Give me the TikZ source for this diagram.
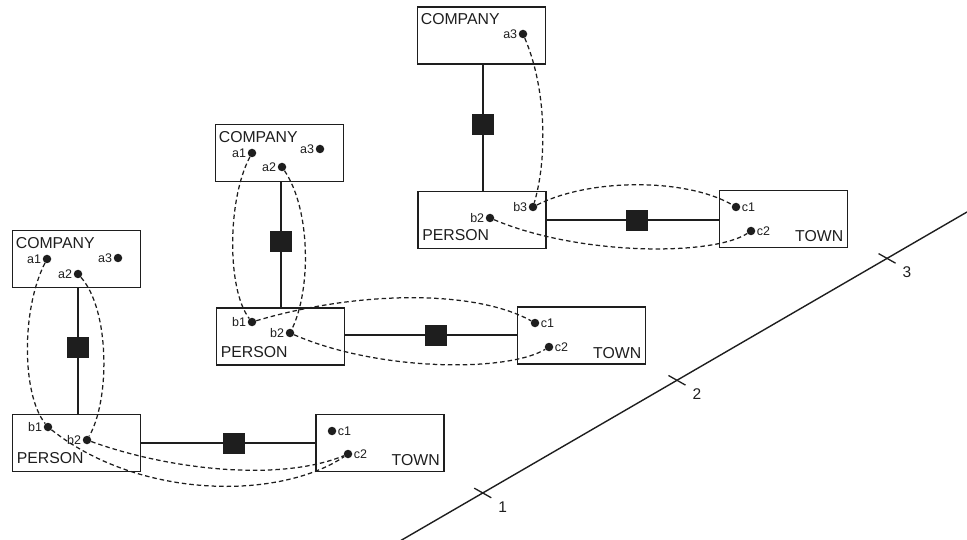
\documentclass[tikz,border=0pt]{standalone}
\usepackage{fontspec}
\setmainfont{Liberation Sans}
\usetikzlibrary{calc}
\definecolor{ink}{RGB}{30,30,30}
\newcommand{\attrL}[3]{\node[dot] (#1) at (#2) {}; \node[lbl, anchor=east] (#1l) at (#1.west) {#3};}
\newcommand{\attrR}[3]{\node[dot] (#1) at (#2) {}; \node[lbl, anchor=west] (#1l) at (#1.east) {#3};}
\begin{document}
\begin{tikzpicture}[x=1pt,y=-1pt,
  box/.style={draw=ink, line width=1.7pt, minimum width=128pt, minimum height=57pt, inner sep=0pt},
  title/.style={font=\fontsize{15.8}{15.8}\selectfont, text=ink, inner sep=0pt},
  lbl/.style={font=\fontsize{12.5}{12.5}\selectfont, text=ink, inner sep=1.2pt},
  dot/.style={circle, fill=ink, minimum size=8.5pt, inner sep=0pt},
  rel/.style={fill=ink, draw=ink, minimum width=21pt, minimum height=20pt, inner sep=0pt},
  link/.style={draw=ink, line width=1.1pt},
  dep/.style={draw=ink, line width=1.25pt, dash pattern=on 4.5pt off 3pt},
  timeaxis/.style={draw=ink, line width=1.4pt},
  axtick/.style={draw=ink, line width=1.3pt},
  ticklbl/.style={font=\fontsize{15.5}{15.5}\selectfont, text=ink, inner sep=0pt}
]
\useasboundingbox (0,0) rectangle (967,540);

% ---------- boxes ----------
\node[box] (g1comp) at (76.5,259) {};
\node[box] (g1pers) at (76.5,443) {};
\node[box] (g1town) at (380,443) {};
\node[box] (g2comp) at (279.5,153) {};
\node[box] (g2pers) at (280.5,336.5) {};
\node[box] (g2town) at (581.5,335.5) {};
\node[box] (g3comp) at (481.5,35.5) {};
\node[box] (g3pers) at (482,220) {};
\node[box] (g3town) at (783.5,219) {};

% ---------- box titles ----------
\foreach \g in {g1,g2,g3}{
  \node[title, anchor=base west] (\g compt) at ($(\g comp.north west)+(4,18.5)$) {COMPANY};
  \node[title, anchor=base west] (\g perst) at ($(\g pers.south west)+(5,-8.5)$) {PERSON};
  \node[title, anchor=base east] (\g townt) at ($(\g town.south east)+(-5,-6.5)$) {TOWN};
}

% ---------- relationship connectors ----------
\coordinate (g1rv) at (78,347);
\coordinate (g1rh) at (234,443);
\coordinate (g2rv) at (281,241);
\coordinate (g2rh) at (436,335);
\coordinate (g3rv) at (483,124);
\coordinate (g3rh) at (637,220);
\foreach \g in {g1,g2,g3}{
  \draw[link] (\g comp.south -| \g rv) -- (\g rv) -- (\g pers.north -| \g rv);
  \draw[link] (\g pers.east |- \g rh) -- (\g rh) -- (\g town.west |- \g rh);
  \node[rel] (\g rvs) at (\g rv) {};
  \node[rel] (\g rhs) at (\g rh) {};
}

% ---------- attribute dots ----------
\attrL{g1a1}{47,259}{a1}
\attrL{g1a2}{78,274}{a2}
\attrL{g1a3}{118,258}{a3}
\attrL{g1b1}{48,427}{b1}
\attrL{g1b2}{87,440}{b2}
\attrR{g1c1}{332,431}{c1}
\attrR{g1c2}{348,454}{c2}

\attrL{g2a1}{252,153}{a1}
\attrL{g2a2}{282,167}{a2}
\attrL{g2a3}{320,149}{a3}
\attrL{g2b1}{252,322}{b1}
\attrL{g2b2}{290,333}{b2}
\attrR{g2c1}{535,323}{c1}
\attrR{g2c2}{549,347}{c2}

\attrL{g3a3}{523,34}{a3}
\attrL{g3b3}{533,207}{b3}
\attrL{g3b2}{490,218}{b2}
\attrR{g3c1}{736,207}{c1}
\attrR{g3c2}{751,231}{c2}

% ---------- dashed correspondences ----------
\draw[dep] (g1a1) .. controls (21,310) and (22,395) .. (g1b1);
\draw[dep] (g1a2) .. controls (110,310) and (110,400) .. (g1b2);
\draw[dep] (g1b1) .. controls (140,500) and (280,500) .. (g1c2);
\draw[dep] (g1b2) .. controls (170,470) and (280,482) .. (g1c2);

\draw[dep] (g2a1) .. controls (227,200) and (227,290) .. (g2b1);
\draw[dep] (g2a2) .. controls (311,210) and (311,290) .. (g2b2);
\draw[dep] (g2b1) .. controls (360,290) and (476,290) .. (g2c1);
\draw[dep] (g2b2) .. controls (380,372) and (508,372) .. (g2c2);

\draw[dep] (g3a3) .. controls (547,90) and (547,160) .. (g3b3);
\draw[dep] (g3b3) .. controls (590,178) and (686,178) .. (g3c1);
\draw[dep] (g3b2) .. controls (580,256) and (713,256) .. (g3c2);

% ---------- time axis ----------
\coordinate (tl0) at (400,541);
\coordinate (tl1) at (967,212);
\draw[timeaxis] (tl0) -- (tl1) coordinate[pos=0.146] (t1) coordinate[pos=0.4885] (t2) coordinate[pos=0.859] (t3);
\foreach \t/\n in {t1/1,t2/2,t3/3}{
  \draw[axtick] ($(\t)+(-8.5,-4.8)$) -- ($(\t)+(8.5,4.8)$);
  \node[ticklbl] (\t l) at ($(\t)+(20,14)$) {\n};
}
\end{tikzpicture}
\end{document}
